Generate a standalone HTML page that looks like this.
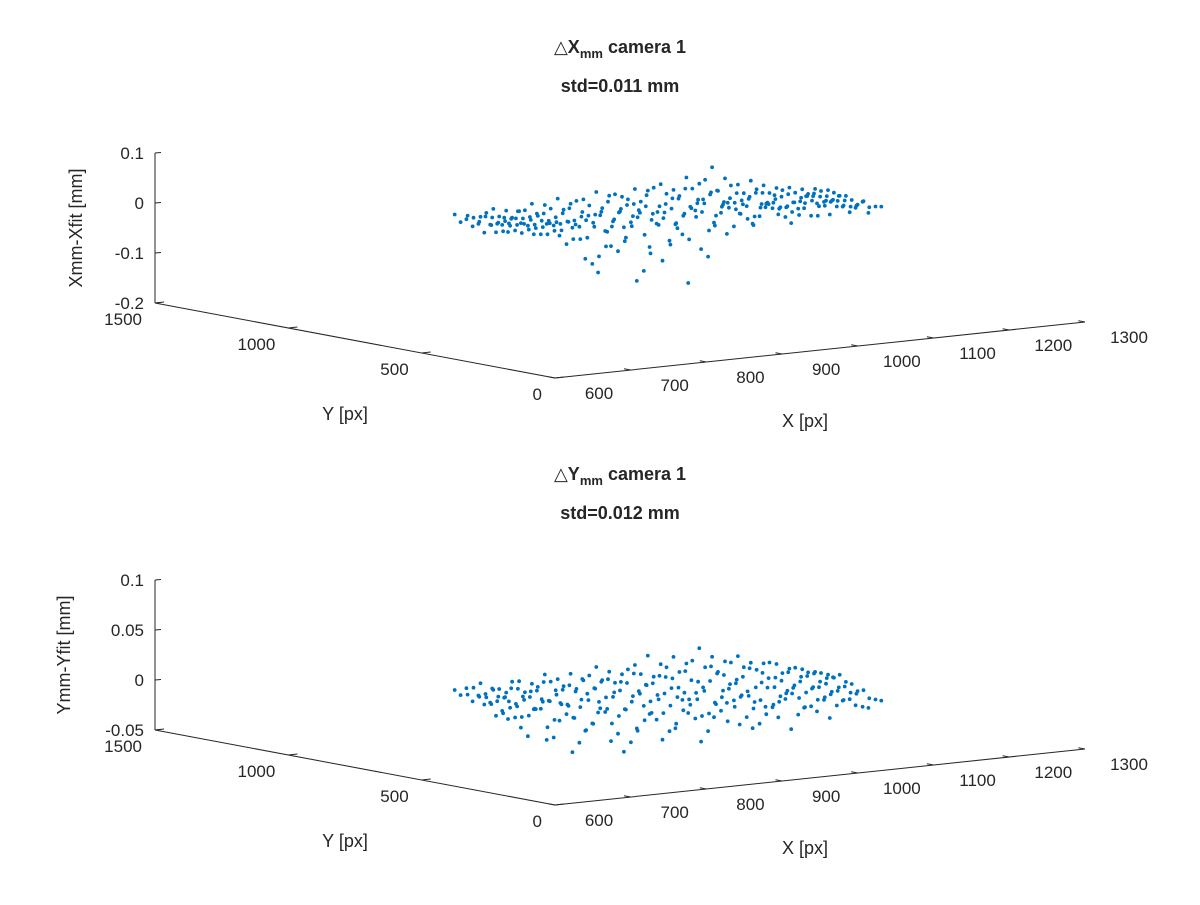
<!DOCTYPE html>
<html><head><meta charset="utf-8"><style>
body{margin:0;background:#fff}
svg text{font-family:"Liberation Sans","DejaVu Sans",sans-serif;fill:#262626}
</style></head><body>
<svg id="fig" width="1200" height="900" viewBox="0 0 1200 900" xmlns="http://www.w3.org/2000/svg"></svg>
<script>
const xGrid=[700,717,734,751,768,785,802,819,836,853,870,887,904,921,938,955,972,989,1006,1023,1040,1057,1074,1091,1108,1125,1142,1159,1176,1193];
const yGrid=[460,482,505,527,549,571,593,616,638,660];
const xTicks=[600,700,800,900,1000,1100,1200,1300];
const yTicks=[0,500,1000,1500];
const zTicksTop=[0.1,0,-0.1,-0.2];
const zTicksBot=[0.1,0.05,0,-0.05];
const zTop=[
[30,45,20,38,12,25,-40,-70,-20,15,-95,-30,-60,10,-110,-45,5,-20,18,-5,25,8,-12,15,22,-3,10,5,-8,2],
[42,28,35,15,30,-10,22,-55,8,-35,20,-80,12,-25,-15,30,-65,20,-10,28,5,18,-2,12,-5,20,8,-6,12,0],
[25,40,18,32,10,28,-5,30,-45,12,-20,25,-50,18,5,-30,22,-8,35,10,-15,25,12,3,18,-10,15,5,2,-4],
[38,22,45,20,35,12,28,-10,20,-30,35,5,-15,28,-40,15,10,-20,25,30,-5,15,22,10,-8,18,5,12,-2,6],
[20,35,28,40,18,30,8,25,-12,30,15,-20,32,10,22,-12,28,40,5,18,30,-5,20,8,15,25,2,10,8,-3],
[35,30,42,25,38,15,32,20,28,5,-8,30,18,35,-5,25,12,30,45,22,10,28,15,30,5,12,20,8,15,4],
[28,45,30,35,22,40,18,35,10,25,30,12,38,20,15,32,40,18,25,48,30,15,35,10,22,8,18,14,5,10],
[40,32,38,28,45,25,35,15,40,30,22,45,28,35,50,25,38,55,30,42,20,35,25,30,15,22,12,18,10,8],
[32,38,45,35,30,42,28,40,35,50,38,30,55,42,35,60,45,38,50,65,40,48,30,35,25,28,20,15,18,12],
[45,40,35,48,42,38,50,45,55,42,48,60,50,45,58,52,62,48,70,55,85,60,45,50,38,30,28,22,20,15]];
const zBot=[
[5,-5,12,-20,-2,-35,-15,2,-28,-40,-18,-5,-32,-22,-8,-38,-15,-2,-25,-30,-10,-22,-35,-15,-20,-28,-12,-18,-22,-16],
[12,4,-16,10,-20,2,-28,-10,0,-23,-33,2,-13,-26,4,-16,-30,-11,-2,-20,-28,-13,-6,-23,-16,-11,-18,-13,-22,-16],
[6,19,2,9,-11,12,-4,-18,9,-14,-1,-24,4,-9,-21,2,-16,-4,-24,-1,-14,-21,-10,-3,-18,-12,-8,-15,-10,-16],
[18,6,14,1,16,-6,8,4,-14,11,-9,4,-16,8,-4,-10,6,-16,-1,-12,2,-8,-14,-4,-10,-2,-12,-7,-10,-9],
[15,17,9,19,5,12,7,-8,15,-1,9,-5,12,-11,7,2,-7,9,-9,5,-3,-11,2,-8,-1,-7,-3,-9,-5,-11],
[23,13,18,8,16,10,20,3,8,18,-4,13,6,16,0,10,4,-4,13,2,8,-6,6,0,-5,3,-4,-2,-7,-5],
[16,22,18,25,12,20,8,18,15,5,22,10,18,6,15,20,8,14,2,18,6,12,0,8,4,-2,6,-1,2,-4],
[28,18,25,15,22,18,26,12,20,25,14,22,18,25,12,20,16,22,10,24,14,8,18,12,6,10,4,6,0,2],
[20,26,15,22,28,16,20,24,18,14,26,20,16,28,22,18,26,20,30,22,16,24,18,14,20,8,12,6,4,-2],
[24,18,28,20,16,26,22,30,24,28,20,32,26,22,30,38,28,34,26,40,30,24,28,20,18,16,10,8,4,0]];

const NS='http://www.w3.org/2000/svg';
const svg=document.getElementById('fig');
function mk(tag,attrs,parent){const e=document.createElementNS(NS,tag);for(const k in attrs)e.setAttribute(k,attrs[k]);(parent||svg).appendChild(e);return e;}

function drawPlot(cfg){
  const g=mk('g',{});
  
  
  const px=(X,Y)=>555+530*(X-600)/700-400*Y/1500;
  const py=(X,Y,Z)=>cfg.base-56*(X-600)/700-75*Y/1500-cfg.zs*(Z-cfg.zmin);
  const ax={stroke:'#262626','stroke-width':1,fill:'none'};
  const zl=mk('line',Object.assign({x1:px(600,1500),y1:py(600,1500,cfg.zmin),x2:px(600,1500),y2:py(600,1500,cfg.zmax)},ax),g);
  
  
  cfg.zt.forEach(z=>{
    const x=px(600,1500),y=py(600,1500,z);
    mk('line',Object.assign({x1:x,y1:y,x2:x+6,y2:y-0.5},ax),g);
    const t=mk('text',{x:x-11,y:y+6,'text-anchor':'end','font-size':17},g);
    t.textContent=String(z);
    
    
  });
  const yl=mk('line',Object.assign({x1:px(600,0),y1:py(600,0,cfg.zmin),x2:px(600,1500),y2:py(600,1500,cfg.zmin)},ax),g);
  
  
  yTicks.forEach(v=>{
    const x=px(600,v),y=py(600,v,cfg.zmin);
    mk('line',Object.assign({x1:x,y1:y,x2:px(612,v),y2:py(612,v,cfg.zmin)},ax),g);
    const t=mk('text',{x:x-13,y:y+22,'text-anchor':'end','font-size':17},g);
    t.textContent=v;
    
    
  });
  const xl=mk('line',Object.assign({x1:px(600,0),y1:py(600,0,cfg.zmin),x2:px(1300,0),y2:py(1300,0,cfg.zmin)},ax),g);
  
  
  xTicks.forEach(v=>{
    const x=px(v,0),y=py(v,0,cfg.zmin);
    mk('line',Object.assign({x1:x,y1:y,x2:px(v,25),y2:py(v,25,cfg.zmin)},ax),g);
    const t=mk('text',{x:x+44,y:y+21,'text-anchor':'middle','font-size':17},g);
    t.textContent=v;
    
    
  });
  let t=mk('text',{x:345,y:cfg.off+420,'text-anchor':'middle','font-size':18},g);
  t.textContent='Y [px]';
  
  
  t=mk('text',{x:805,y:cfg.off+427,'text-anchor':'middle','font-size':18},g);
  t.textContent='X [px]';
  
  
  t=mk('text',{x:0,y:0,'text-anchor':'middle','font-size':18,transform:`translate(${cfg.zlx},${cfg.zly}) rotate(-90)`},g);
  t.textContent=cfg.zlabel;
  
  
  t=mk('text',{x:620,y:cfg.off+53,'text-anchor':'middle','font-size':18,'font-weight':'bold'},g);
  t.innerHTML='△'+cfg.sym+'<tspan font-size="13" dy="5">mm</tspan><tspan dy="-5"> camera 1</tspan>';
  
  
  t=mk('text',{x:620,y:cfg.off+92,'text-anchor':'middle','font-size':18,'font-weight':'bold'},g);
  t.textContent=cfg.std;
  
  
  const pg=mk('g',{fill:'#0072BD'},g);
  
  
  cfg.z.forEach((row,i)=>row.forEach((zv,j)=>{
    const X=xGrid[j],Y=yGrid[i],Z=zv*0.001;
    const c=mk('circle',{cx:px(X,Y).toFixed(1),cy:py(X,Y,Z).toFixed(1),r:1.9},pg);
    
    
  }));
}
drawPlot({name:'plot-delta-x',base:378,off:0,zs:500,zmin:-0.2,zmax:0.1,zt:zTicksTop,z:zTop,zlabel:'Xmm-Xfit [mm]',zlx:82,zly:228,sym:'X',std:'std=0.011 mm'});
drawPlot({name:'plot-delta-y',base:805,off:427,zs:1000,zmin:-0.05,zmax:0.1,zt:zTicksBot,z:zBot,zlabel:'Ymm-Yfit [mm]',zlx:70,zly:655,sym:'Y',std:'std=0.012 mm'});
</script>
</body></html>
